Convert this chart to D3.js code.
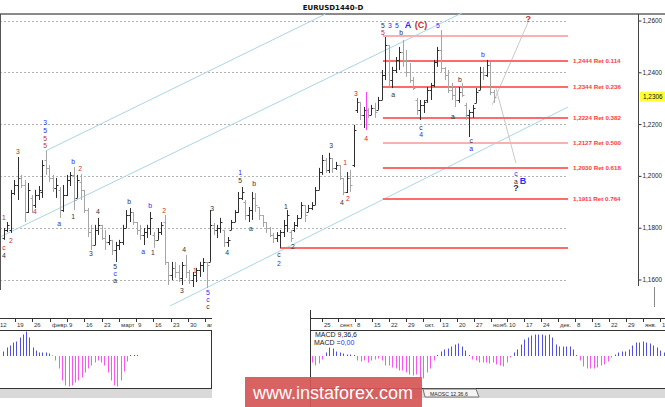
<!DOCTYPE html>
<html><head><meta charset="utf-8">
<script src="https://cdn.jsdelivr.net/npm/d3@7"></script>
<style>html,body{margin:0;padding:0;background:#fff;overflow:hidden}svg{display:block}</style>
</head><body>
<svg id="c" width="665" height="407"></svg>
<script>
// ---------------- DATA ----------------
const title = "EURUSD1440-D";
const opens = [1.1760,1.1791,1.1791,1.1934,1.1965,1.1992,1.1965,1.1861,1.1915,1.1888,
1.1926,1.1938,1.2061,1.2031,1.1992,1.1953,1.1946,1.1868,1.1926,1.1984,
1.2004,1.1915,1.1977,1.1946,1.1868,1.1783,1.1733,1.1791,1.1811,1.1760,
1.1745,1.1753,1.1714,1.1733,1.1745,1.1799,1.1849,1.1861,1.1822,1.1791,
1.1772,1.1783,1.1799,1.1772,1.1753,1.1783,1.1822,1.1668,1.1617,1.1645,
1.1629,1.1606,1.1656,1.1629,1.1598,1.1617,1.1637,1.1656,1.1668,1.1668,
1.1811,1.1791,1.1799,1.1791,1.1745,1.1791,1.1822,1.1861,1.1915,1.1899,
1.1849,1.1868,1.1915,1.1880,1.1849,1.1822,1.1799,1.1772,1.1760,1.1772,
1.1783,1.1811,1.1783,1.1791,1.1811,1.1838,1.1888,1.1861,1.1876,1.1888,
1.1946,1.2015,1.2061,1.2023,1.2069,1.2031,1.2042,1.1992,1.1938,1.1992,
1.2042,1.2255,1.2285,1.2235,1.2255,1.2235,1.2262,1.2255,1.2293,1.2390,
1.2505,1.2370,1.2409,1.2448,1.2478,1.2448,1.2401,1.2370,1.2293,1.2255,
1.2274,1.2293,1.2332,1.2351,1.2440,1.2486,1.2417,1.2390,1.2332,1.2312,
1.2293,1.2324,1.2274,1.2235,1.2247,1.2282,1.2332,1.2401,1.2390,1.2428,
1.2324];
const highs = [1.1799,1.1822,1.1946,1.1984,1.2073,1.2004,1.1984,1.1973,1.1926,1.1946,
1.1961,1.2061,1.2096,1.2042,1.2004,1.1992,1.1957,1.1965,1.2004,1.2015,
1.2034,1.2004,1.2007,1.1946,1.1876,1.1811,1.1811,1.1838,1.1811,1.1791,
1.1772,1.1753,1.1745,1.1753,1.1811,1.1868,1.1876,1.1861,1.1822,1.1811,
1.1799,1.1811,1.1861,1.1783,1.1799,1.1822,1.1849,1.1668,1.1668,1.1668,
1.1656,1.1668,1.1695,1.1637,1.1629,1.1645,1.1668,1.1683,1.1668,1.1868,
1.1818,1.1811,1.1838,1.1791,1.1764,1.1830,1.1868,1.1938,1.1957,1.1907,
1.1880,1.1938,1.1934,1.1880,1.1849,1.1822,1.1803,1.1780,1.1783,1.1791,
1.1830,1.1868,1.1791,1.1822,1.1849,1.1899,1.1888,1.1888,1.1899,1.1957,
1.2031,1.2081,1.2069,1.2089,1.2069,1.2054,1.2042,1.1992,1.2015,1.2023,
1.2197,1.2301,1.2285,1.2266,1.2262,1.2274,1.2282,1.2305,1.2409,1.2536,
1.2505,1.2421,1.2459,1.2498,1.2525,1.2486,1.2436,1.2382,1.2301,1.2293,
1.2293,1.2343,1.2359,1.2448,1.2498,1.2563,1.2421,1.2409,1.2359,1.2343,
1.2343,1.2359,1.2282,1.2255,1.2274,1.2339,1.2421,1.2421,1.2448,1.2440,
1.2332];
const lows = [1.1753,1.1783,1.1780,1.1926,1.1907,1.1953,1.1822,1.1857,1.1857,1.1876,
1.1907,1.1915,1.2004,1.1977,1.1938,1.1915,1.1838,1.1861,1.1922,1.1961,
1.1868,1.1915,1.1907,1.1857,1.1764,1.1714,1.1733,1.1772,1.1753,1.1714,
1.1733,1.1695,1.1668,1.1714,1.1733,1.1799,1.1822,1.1811,1.1772,1.1753,
1.1733,1.1760,1.1772,1.1722,1.1753,1.1772,1.1656,1.1579,1.1598,1.1606,
1.1590,1.1579,1.1606,1.1583,1.1571,1.1590,1.1610,1.1629,1.1567,1.1668,
1.1772,1.1760,1.1780,1.1726,1.1726,1.1791,1.1822,1.1857,1.1907,1.1830,
1.1822,1.1830,1.1861,1.1830,1.1803,1.1780,1.1764,1.1741,1.1745,1.1722,
1.1764,1.1783,1.1745,1.1783,1.1803,1.1838,1.1822,1.1861,1.1868,1.1888,
1.1946,1.2004,1.2011,1.2011,1.2011,1.2023,1.1984,1.1926,1.1934,1.1938,
1.2034,1.2243,1.2216,1.2185,1.2224,1.2235,1.2224,1.2255,1.2293,1.2370,
1.2343,1.2339,1.2397,1.2409,1.2421,1.2382,1.2359,1.2332,1.2235,1.2216,
1.2243,1.2282,1.2293,1.2343,1.2421,1.2401,1.2370,1.2320,1.2293,1.2266,
1.2282,1.2305,1.2216,1.2150,1.2224,1.2282,1.2332,1.2370,1.2382,1.2312,
1.2282];
const closes = [1.1791,1.1811,1.1934,1.1965,1.1992,1.1965,1.1861,1.1946,1.1888,1.1926,
1.1946,1.2042,1.2031,1.1992,1.1953,1.1965,1.1868,1.1926,1.1984,1.2004,
1.1907,1.1984,1.1946,1.1868,1.1783,1.1733,1.1791,1.1811,1.1760,1.1745,
1.1753,1.1714,1.1733,1.1745,1.1799,1.1849,1.1861,1.1822,1.1791,1.1772,
1.1783,1.1799,1.1838,1.1753,1.1783,1.1811,1.1668,1.1617,1.1645,1.1629,
1.1606,1.1656,1.1629,1.1598,1.1617,1.1637,1.1656,1.1668,1.1656,1.1811,
1.1791,1.1799,1.1822,1.1745,1.1753,1.1822,1.1861,1.1915,1.1938,1.1849,
1.1868,1.1915,1.1888,1.1849,1.1822,1.1799,1.1772,1.1760,1.1772,1.1783,
1.1811,1.1849,1.1760,1.1811,1.1838,1.1888,1.1849,1.1876,1.1888,1.1946,
1.2015,1.2061,1.2023,1.2069,1.2031,1.2042,1.1992,1.1938,1.1992,1.1965,
1.2177,1.2285,1.2235,1.2255,1.2235,1.2262,1.2247,1.2293,1.2390,1.2505,
1.2370,1.2409,1.2448,1.2478,1.2448,1.2401,1.2370,1.2339,1.2255,1.2274,
1.2285,1.2332,1.2351,1.2440,1.2486,1.2417,1.2390,1.2332,1.2312,1.2293,
1.2324,1.2312,1.2235,1.2247,1.2262,1.2324,1.2401,1.2390,1.2428,1.2324,
1.2305];

const priceTicks = [1.26, 1.24, 1.22, 1.20, 1.18, 1.16];
const lastPrice = 1.2306;

const fibLevels = [1.2540, 1.2444, 1.2344, 1.2224, 1.2127, 1.2030, 1.1911, 1.1722];
const fibLabels = ["", "1,2444 Ret 0.114", "1,2344 Ret 0.236", "1,2224 Ret 0.382",
                   "1,2127 Ret 0.500", "1,2030 Ret 0.618", "1,1911 Ret 0.764", ""];
const fibStart = [108.4, 108.4, 108.4, 108.4, 108.4, 108.4, 108.4, 79.0];
const fibEnd = 161.3;

// channel lines [idx1, price1, idx2, price2]
const channels = [[12, 1.2096, 92, 1.2625], [-1, 1.1764, 131, 1.2629], [47.6, 1.1498, 161.3, 1.2266]];
const projections = [[139.6, 1.2274, 149.9, 1.2594], [140.7, 1.2339, 146.4, 1.2050]];
const marker = [103.6, 1.2324, 1.2177];

const blueLabels = [["3",11.9,1.2208],["5",11.9,1.2177],["b",19.9,1.2054],["a",15.9,1.1818],
 ["c",31.9,1.1625],["b",41.9,1.1884],["a",39.9,1.1710],["5",58.4,1.1548],["c",58.4,1.1521],
 ["1",67.6,1.2015],["2",78.7,1.1660],["3",110.4,1.2579],["5",112.4,1.2579],["A",115.6,1.2579],
 ["5",124.1,1.2579],["4",119.3,1.2158],["b",137,1.2467],["a",133.6,1.2104],["c",146.4,1.2011],
 ["B",148.4,1.1980]];
const redLabels = [["3",4.1,1.2096],["5",11.9,1.2116],["5",11.9,1.2146],["1",0.1,1.1838],
 ["2",2.1,1.1749],["c",0.1,1.1722],["4",9.0,1.1861],["2",21.9,1.2027],["2",45.9,1.1865],
 ["1",54.7,1.1633],["1",97.6,1.2050],["2",98.4,1.1911],["3",100.7,1.2320],["4",103.6,1.2146],
 ["5",108.4,1.2552],["(C)",119.3,1.2579],["?",149.9,1.2602]];
const darkLabels = [["4",0.1,1.1691],["1",19.9,1.1845],["4",27,1.1861],["3",25,1.1699],
 ["5",31.9,1.1652],["a",31.9,1.1598],["b",35.9,1.1903],["1",42.7,1.1706],["3",51,1.1559],
 ["4",51.6,1.1714],["3",59.6,1.1876],["c",58.4,1.1494],["5",67.6,1.1984],["b",71.6,1.1969],
 ["a",70.7,1.1795],["4",63.9,1.1706],["1",80.7,1.1880],["c",78.7,1.1695],["2",82.7,1.1726],
 ["3",93.6,1.2116],["4",96.7,1.1899],["5",108.4,1.2579],["b",113.6,1.2552],["a",111.3,1.2316],
 ["c",119.3,1.2185],["b",130.4,1.2374],["a",128.4,1.2231],["c",133.6,1.2135],["a",146.4,1.1980],
 ["?",146.4,1.1950]];

const leftDates = ["12","19","26","февр.","9","16","23","март","9","16","23","30","апр."];
const rightDates = ["25","сент.","8","15","22","29","окт.","13","20","27","нояб.","10","17","24",
                    "дек.","8","15","22","29","янв.","1"];

const macdLeft = [0.0004,0.0008,0.0010,0.0013,0.0014,0.0018,0.0021,0.0024,0.0018,0.0008,
 0.0005,0.0003,0.0003,0.0003,0.0002,0.0000,-0.0004,-0.0012,-0.0024,-0.0029,
 -0.0030,-0.0029,-0.0026,-0.0024,-0.0021,-0.0016,-0.0012,-0.0009,-0.0006,-0.0004,
 -0.0006,-0.0009,-0.0016,-0.0024,-0.0029,-0.0030,-0.0024,-0.0015,-0.0005,0.00005,0.00005,0.00005];
const macdRight = [-0.0006,-0.0009,-0.0007,-0.0003,0.0003,0.0008,0.0007,0.0004,0.0003,0.0002,
 0.0001,0.0001,0.00005,-0.0004,-0.0005,-0.0004,-0.0006,-0.0004,-0.0003,-0.0002,
 -0.0004,-0.0009,-0.0009,-0.0011,-0.0012,-0.0014,-0.0014,-0.0016,-0.0018,-0.0019,
 -0.0018,-0.0021,-0.0022,-0.0016,-0.0012,-0.0004,0.00005,0.0004,0.0006,0.0007,
 0.0009,0.0011,0.0012,0.0009,0.0005,0.00005,-0.0003,-0.0004,-0.0006,-0.0006,
 -0.0006,-0.0007,-0.0006,-0.0008,-0.0009,-0.0010,-0.0006,-0.0001,0.0003,0.0006,
 0.0011,0.0016,0.0018,0.0020,0.0021,0.0021,0.0021,0.0020,0.0021,0.0018,
 0.0011,0.0009,0.0009,0.0009,0.0009,0.0006,0.00005,-0.0004,-0.0010,-0.0012,
 -0.0012,-0.0012,-0.0011,-0.0009,-0.0008,-0.0005,-0.0001,0.0001,0.0003,0.0004,
 0.0004,0.0006,0.0010,0.0013,0.0013,0.0014,0.0013,0.0012,0.0010,0.0008,
 0.0005,0.0003];

// ---------------- DRAW ----------------
const svg = d3.select("#c");
const F = "'Liberation Sans', Arial, sans-serif";
const N = highs.length;
const x = d3.scaleLinear().domain([0, 140]).range([3.5, 493.5]);
const y = d3.scaleLinear().domain([1.16, 1.26]).range([279.5, 20.5]);

// header
svg.append("text").attr("x", 333).attr("y", 9.5).attr("text-anchor", "middle")
  .attr("font-family", "'DejaVu Sans', sans-serif").attr("font-weight", "bold")
  .attr("font-size", 7).attr("fill", "#111").text(title);
svg.append("line").attr("x1", 0).attr("x2", 665).attr("y1", 14).attr("y2", 14)
  .attr("stroke", "#8a8a8a").attr("stroke-width", 2);

const main = svg.append("g");
// grid
main.selectAll("line.grid").data(priceTicks).join("line")
  .attr("x1", 0).attr("x2", 568).attr("y1", d => Math.round(y(d)) + 0.5).attr("y2", d => Math.round(y(d)) + 0.5)
  .attr("stroke", "#b4b4b4").attr("stroke-dasharray", "2,2");

// channel lines
const lc = d => main.append("line").attr("x1", x(d[0])).attr("y1", y(d[1])).attr("x2", x(d[2])).attr("y2", y(d[3]));
channels.forEach(c => lc(c).attr("stroke", "#a9d6e3").attr("stroke-width", 1));
projections.forEach(c => lc(c).attr("stroke", "#c8c8c8").attr("stroke-width", 1));

// fib lines
fibLevels.forEach((lv, k) => {
  const pink = k === 0 || fibLabels[k].indexOf("0.500") >= 0;
  main.append("line").attr("x1", x(fibStart[k])).attr("x2", x(fibEnd))
    .attr("y1", Math.round(y(lv))).attr("y2", Math.round(y(lv)))
    .attr("stroke", pink ? "#f8b0b0" : "#ff6a6a").attr("stroke-width", 2);
  if (fibLabels[k]) main.append("text").attr("x", x(fibEnd) + 5).attr("y", y(lv) + 2)
    .attr("font-family", F).attr("font-size", 6.2).attr("font-weight", "bold")
    .attr("fill", "#ff3b3b").text(fibLabels[k]);
});

// bars
const bars = main.selectAll("g.bar").data(d3.range(N)).join("g")
  .attr("stroke", i => closes[i] < opens[i] ? "#a6a6a6" : "#2e2e2e");
bars.append("line").attr("x1", i => Math.round(x(i)) + 0.5).attr("x2", i => Math.round(x(i)) + 0.5)
  .attr("y1", i => y(highs[i])).attr("y2", i => y(lows[i]));
bars.append("line").attr("x1", i => Math.round(x(i)) - 1.5).attr("x2", i => Math.round(x(i)) + 0.5)
  .attr("y1", i => Math.round(y(opens[i])) + 0.5).attr("y2", i => Math.round(y(opens[i])) + 0.5);
bars.append("line").attr("x1", i => Math.round(x(i)) + 0.5).attr("x2", i => Math.round(x(i)) + 2.5)
  .attr("y1", i => Math.round(y(closes[i])) + 0.5).attr("y2", i => Math.round(y(closes[i])) + 0.5);

main.append("line").attr("x1", Math.round(x(marker[0])) + 0.5).attr("x2", Math.round(x(marker[0])) + 0.5)
  .attr("y1", y(marker[1])).attr("y2", y(marker[2])).attr("stroke", "#ff40ff").attr("stroke-width", 1);

// wave labels
function labels(arr, color) {
  main.selectAll(null).data(arr).join("text")
    .attr("x", d => x(d[1])).attr("y", d => y(d[2]) + 2.5).attr("text-anchor", "middle")
    .attr("font-family", F)
    .attr("font-size", d => /[A-Z?]/.test(d[0]) ? 9 : 6.8)
    .attr("font-weight", d => /[A-Z?]/.test(d[0]) ? "bold" : "normal")
    .attr("fill", color).text(d => d[0]);
}
labels(blueLabels, "#2b2bff");
labels(redLabels, "#c0302a");
labels(darkLabels, "#333");

// left border & price axis
svg.append("line").attr("x1", 0.5).attr("x2", 0.5).attr("y1", 14).attr("y2", 290).attr("stroke", "#555");
const ax = svg.append("g").attr("transform", "translate(638.5,0)")
  .call(d3.axisRight(y).tickValues(priceTicks).tickSize(3).tickFormat(d => d.toFixed(4).replace(".", ",")));
ax.select(".domain").remove();
ax.selectAll("line").attr("stroke", "#333");
ax.selectAll("text").attr("font-family", F).attr("font-size", 6.4).attr("fill", "#222").attr("x", 4);
svg.append("line").attr("x1", 638.5).attr("x2", 638.5).attr("y1", 14).attr("y2", 286).attr("stroke", "#444");
svg.append("line").attr("x1", 654.5).attr("x2", 654.5).attr("y1", 287).attr("y2", 307).attr("stroke", "#888");
svg.append("rect").attr("x", 640).attr("y", y(lastPrice) - 5).attr("width", 25).attr("height", 10).attr("fill", "#ffff33");
svg.append("text").attr("x", 643).attr("y", y(lastPrice) + 2.3).attr("font-family", F).attr("font-size", 6.4)
  .attr("fill", "#111").text(lastPrice.toFixed(4).replace(".", ","));

// ---------------- LOWER WINDOWS ----------------
const yM = d3.scaleLinear().domain([-0.003, 0.003]).range([386, 326]);
function strip(g, labelsArr, t0, step, x0, x1) {
  g.append("line").attr("x1", x0).attr("x2", x1).attr("y1", 318.5).attr("y2", 318.5).attr("stroke", "#333");
  g.append("line").attr("x1", x0).attr("x2", x1).attr("y1", 330.5).attr("y2", 330.5).attr("stroke", "#333");
  const sx = d3.scaleLinear().domain([0, 1]).range([t0, t0 + step]);
  labelsArr.forEach((t, k) => {
    const px = Math.round(sx(k)) + 0.5;
    g.append("line").attr("x1", px).attr("x2", px).attr("y1", 318.5).attr("y2", 322).attr("stroke", "#333");
    g.append("text").attr("x", px + 1.5).attr("y", 327).attr("font-family", F).attr("font-size", 6)
      .attr("fill", "#333").text(t);
  });
}
function hist(g, vals, x0, x1) {
  const xs = d3.scaleLinear().domain([0, vals.length - 1]).range([x0, x1]);
  g.selectAll("line.mh").data(vals).join("line")
    .attr("x1", (d, i) => Math.round(xs(i)) + 0.5).attr("x2", (d, i) => Math.round(xs(i)) + 0.5)
    .attr("y1", yM(0)).attr("y2", d => yM(d) + (d >= 0 ? -0.5 : 0.5))
    .attr("stroke", d => d >= 0 ? "#5050e6" : "#ff55f0");
}
// left window
svg.append("clipPath").attr("id", "cl").append("rect").attr("x", 0).attr("y", 300).attr("width", 212).attr("height", 107);
const lg = svg.append("g").attr("clip-path", "url(#cl)");
strip(lg, leftDates, -2.3, 17.3, 0, 212);
hist(lg, macdLeft, 3.3, 137);
lg.append("line").attr("x1", 0).attr("x2", 212).attr("y1", 388.5).attr("y2", 388.5).attr("stroke", "#333");
lg.append("rect").attr("x", 0).attr("y", 389).attr("width", 212).attr("height", 9).attr("fill", "#d9d9d9");
svg.append("line").attr("x1", 211.5).attr("x2", 211.5).attr("y1", 330).attr("y2", 389).attr("stroke", "#333");

// right window
svg.append("clipPath").attr("id", "cr").append("rect").attr("x", 310).attr("y", 300).attr("width", 355).attr("height", 107);
const rg = svg.append("g").attr("clip-path", "url(#cr)");
rg.append("rect").attr("x", 310).attr("y", 310).attr("width", 355).attr("height", 97).attr("fill", "#fff");
strip(rg, rightDates, 321.5, 16.9, 310, 665);
hist(rg, macdRight, 312, 663.5);
rg.append("text").attr("x", 315).attr("y", 337).attr("font-family", F).attr("font-size", 7)
  .attr("fill", "#222").text("MACD 9,36,6");
const t2 = rg.append("text").attr("x", 314).attr("y", 344.5).attr("font-family", F).attr("font-size", 7).attr("fill", "#222");
t2.append("tspan").text("MACD =");
t2.append("tspan").attr("fill", "#2b2bff").text("0,00");
rg.append("line").attr("x1", 310).attr("x2", 665).attr("y1", 388.5).attr("y2", 388.5).attr("stroke", "#333");
rg.append("rect").attr("x", 310).attr("y", 389).attr("width", 355).attr("height", 9).attr("fill", "#d9d9d9");
rg.append("path").attr("d", "M423,389 L476,389 L479,397 L425,397 Z").attr("fill", "#f4f4f4").attr("stroke", "#777");
rg.append("text").attr("x", 430).attr("y", 395.5).attr("font-family", F).attr("font-size", 5.2)
  .attr("fill", "#222").text("MAOSC 12,36,6");
svg.append("line").attr("x1", 310.5).attr("x2", 310.5).attr("y1", 310).attr("y2", 407).attr("stroke", "#333");

// watermark
svg.append("rect").attr("x", 245).attr("y", 377).attr("width", 177).attr("height", 30)
  .attr("fill", "#d65656").attr("opacity", 0.92);
svg.append("text").attr("x", 253).attr("y", 399).attr("font-family", F).attr("font-size", 18)
  .attr("fill", "#fff").text("www.instaforex.com");
</script>
</body></html>
